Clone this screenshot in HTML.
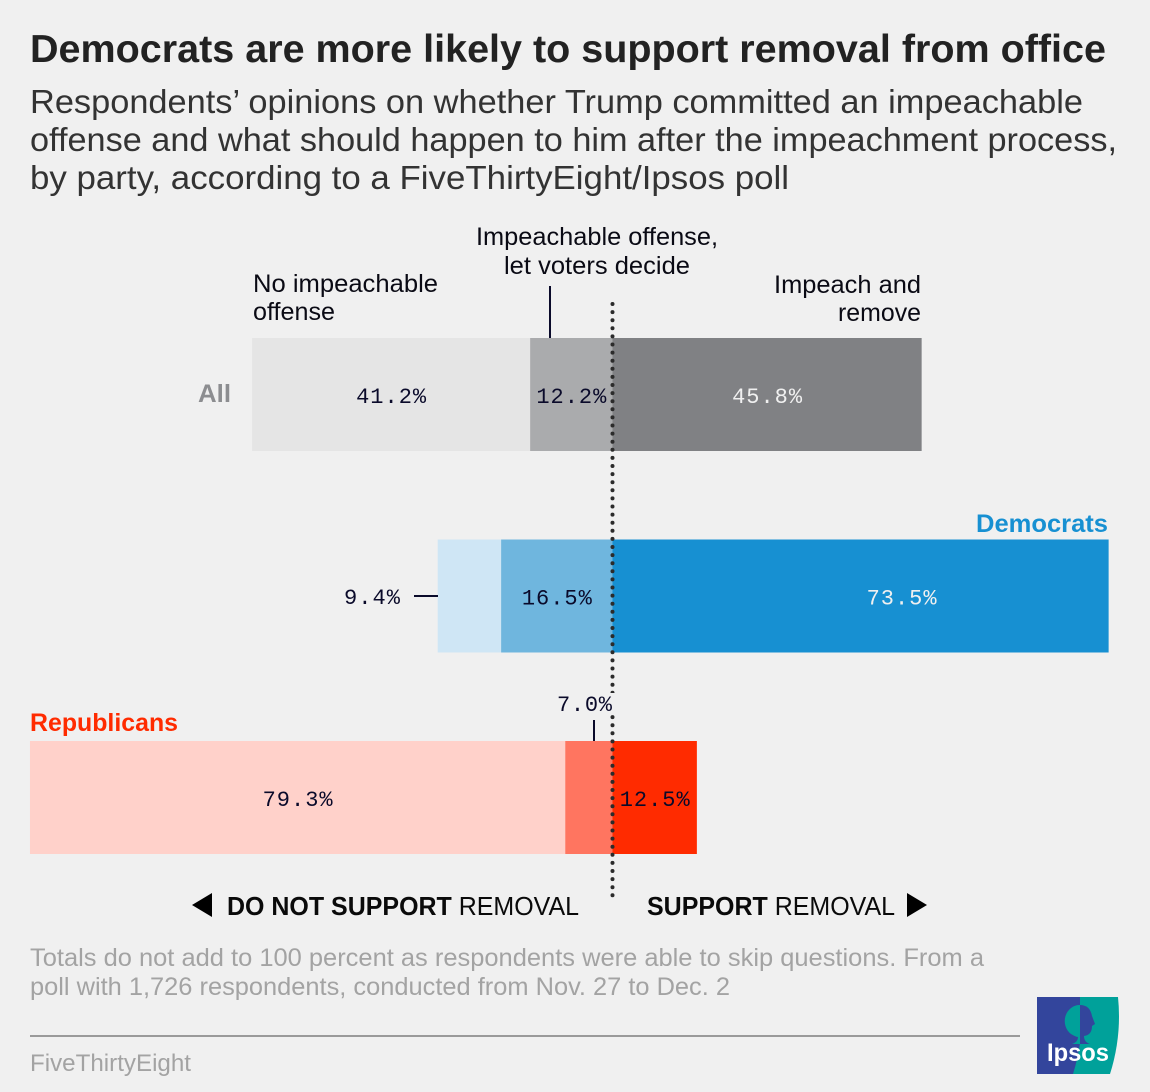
<!DOCTYPE html>
<html lang="en">
<head>
<meta charset="utf-8">
<title>Democrats are more likely to support removal from office</title>
<style>
html,body{margin:0;padding:0;background:#f0f0f0;width:1150px;height:1092px;overflow:hidden}
svg{display:block}
text{font-family:"Liberation Sans",sans-serif}
.mono{font-family:"Liberation Mono",monospace;font-size:22px}
.lab{font-size:25px;fill:#0a0a14}
.sub{font-size:33.5px;fill:#333}
.note{font-size:25px;fill:#a3a3a3}
.axis{font-size:26px;fill:#0a0a0a}
</style>
</head>
<body>
<svg id="chart" width="1150" height="1092" viewBox="0 0 1150 1092" xmlns="http://www.w3.org/2000/svg">
<text x="30" y="62" font-size="39" font-weight="700" fill="#222" textLength="1076" lengthAdjust="spacingAndGlyphs">Democrats are more likely to support removal from office</text>
<text class="sub" x="30" y="113" textLength="1053" lengthAdjust="spacingAndGlyphs">Respondents’ opinions on whether Trump committed an impeachable</text>
<text class="sub" x="30" y="151" textLength="1087" lengthAdjust="spacingAndGlyphs">offense and what should happen to him after the impeachment process,</text>
<text class="sub" x="30" y="189" textLength="759" lengthAdjust="spacingAndGlyphs">by party, according to a FiveThirtyEight/Ipsos poll</text>

<text class="lab" x="476" y="245" textLength="242" lengthAdjust="spacingAndGlyphs">Impeachable offense,</text>
<text class="lab" x="504" y="274" textLength="186" lengthAdjust="spacingAndGlyphs">let voters decide</text>
<text class="lab" x="253" y="292" textLength="185" lengthAdjust="spacingAndGlyphs">No impeachable</text>
<text class="lab" x="253" y="320" textLength="82" lengthAdjust="spacingAndGlyphs">offense</text>
<text class="lab" x="921" y="293" text-anchor="end" textLength="147" lengthAdjust="spacingAndGlyphs">Impeach and</text>
<text class="lab" x="921" y="321" text-anchor="end" textLength="83" lengthAdjust="spacingAndGlyphs">remove</text>
<line x1="550" y1="286" x2="550" y2="338" stroke="#0a0a2a" stroke-width="2"/>

<text x="198" y="402" font-size="25" font-weight="700" fill="#8c8d90" textLength="33" lengthAdjust="spacingAndGlyphs">All</text>
<text x="1108" y="532" text-anchor="end" font-size="25" font-weight="700" fill="#1790d2" textLength="132" lengthAdjust="spacingAndGlyphs">Democrats</text>
<text x="30" y="731" font-size="25" font-weight="700" fill="#ff2b00" textLength="148" lengthAdjust="spacingAndGlyphs">Republicans</text>

<g id="bars"></g>

<line x1="414" y1="596" x2="438" y2="596" stroke="#0a0a2a" stroke-width="2"/>
<line x1="594" y1="720" x2="594" y2="741" stroke="#0a0a2a" stroke-width="2"/>
<line x1="612.5" y1="304" x2="612.5" y2="900" stroke="#2b2b2b" stroke-width="4" stroke-linecap="round" stroke-dasharray="0 8.1"/>
<rect x="556" y="693" width="60" height="22" fill="#f0f0f0"/>

<polygon points="192,905 212,893 212,917" fill="#000"/>
<text class="axis" x="227" y="915" textLength="352" lengthAdjust="spacingAndGlyphs"><tspan font-weight="700">DO NOT SUPPORT</tspan> REMOVAL</text>
<text class="axis" x="647" y="915" textLength="248" lengthAdjust="spacingAndGlyphs"><tspan font-weight="700">SUPPORT</tspan> REMOVAL</text>
<polygon points="927,905 907,893 907,917" fill="#000"/>

<text class="note" x="30" y="966" textLength="954" lengthAdjust="spacingAndGlyphs">Totals do not add to 100 percent as respondents were able to skip questions. From a</text>
<text class="note" x="30" y="995" textLength="700" lengthAdjust="spacingAndGlyphs">poll with 1,726 respondents, conducted from Nov. 27 to Dec. 2</text>
<line x1="30" y1="1036" x2="1020" y2="1036" stroke="#9a9a9a" stroke-width="2"/>
<text x="30" y="1071" font-size="24" fill="#a3a3a3" textLength="161" lengthAdjust="spacingAndGlyphs">FiveThirtyEight</text>

<g>
  <path d="M1037 997 H1118 Q1122 1036 1110 1074 H1037 Z" fill="#00a19a"/>
  <path d="M1037 997 H1080 V1043 Q1078 1058 1073 1074 H1037 Z" fill="#33459c"/>
  <path d="M1080 1005 A15 16 0 0 0 1071 1034 Q1076 1037 1078 1037 Q1078 1042 1072 1044 H1080 Z" fill="#00a19a"/>
  <path d="M1080 1005 Q1090 1005 1092 1016 L1095 1024 L1092 1026 Q1092 1035 1084 1036 Q1084 1042 1090 1044 H1080 Z" fill="#33459c"/>
  <text x="1047" y="1061" font-size="25" font-weight="700" fill="#fff" textLength="62" lengthAdjust="spacingAndGlyphs">Ipsos</text>
</g>

<text class="mono" x="557" y="711" fill="#0a0a2a" textLength="55">7.0%</text>
<text class="mono" x="344" y="604" fill="#0a0a2a" textLength="56">9.4%</text>
</svg>
<script>
const rowNames = ['all', 'democrats', 'republicans'];
const noOffense = [41.2, 9.4, 79.3];
const letVoters = [12.2, 16.5, 7.0];
const removeVals = [45.8, 73.5, 12.5];
const noOffenseColors = ['#e5e5e5', '#cfe6f5', '#ffd1ca'];
const letVotersColors = ['#aaabad', '#6fb6de', '#ff7560'];
const removeColors = ['#808184', '#1790d2', '#ff2b00'];
const noOffenseLabelColors = ['#0a0a2a', null, '#0a0a2a'];
const letVotersLabelColors = ['#0a0a2a', '#0a0a2a', null];
const removeLabelColors = ['#f0f0f0', '#f0f0f0', '#0a0a2a'];

const NS = 'http://www.w3.org/2000/svg';
const center = 612.5;
const pxPerPoint = 6.75;
const rowTop = i => 338 + i * 201.5;
const barH = 113;
const x = v => center + v * pxPerPoint;
const group = document.getElementById('bars');

function addSegment(i, x0, x1, fill, value, labelColor, key) {
  const r = document.createElementNS(NS, 'rect');
  r.setAttribute('x', x0);
  r.setAttribute('y', rowTop(i));
  r.setAttribute('width', x1 - x0);
  r.setAttribute('height', barH);
  r.setAttribute('fill', fill);
  
  
  group.appendChild(r);
  if (!labelColor) return;
  const t = document.createElementNS(NS, 'text');
  const label = value.toFixed(1) + '%';
  const shift = (rowNames[i] === 'democrats' && key === 'remove') ? 41 : 0;
  t.setAttribute('class', 'mono');
  t.setAttribute('x', (x0 + x1) / 2 - 35 + shift);
  t.setAttribute('y', rowTop(i) + 65);
  t.setAttribute('textLength', 70);
  t.setAttribute('fill', labelColor);
  
  
  t.textContent = label;
  group.appendChild(t);
}

rowNames.forEach((name, i) => {
  const a = x(-letVoters[i] - noOffense[i]);
  const b = x(-letVoters[i]);
  const c = x(0);
  const d = x(removeVals[i]);
  addSegment(i, a, b, noOffenseColors[i], noOffense[i], noOffenseLabelColors[i], 'no-offense');
  addSegment(i, b, c, letVotersColors[i], letVoters[i], letVotersLabelColors[i], 'let-voters');
  addSegment(i, c, d, removeColors[i], removeVals[i], removeLabelColors[i], 'remove');
});
</script>
</body>
</html>
